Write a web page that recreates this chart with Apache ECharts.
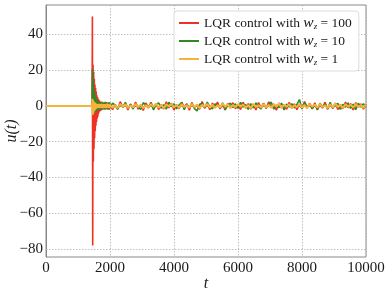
<!DOCTYPE html>
<html><head><meta charset="utf-8">
<script src="https://cdn.jsdelivr.net/npm/echarts@6/dist/echarts.min.js"></script>
<style>html,body{margin:0;padding:0;background:#fff}#c{width:390px;height:294px}</style>
</head><body><div id="c"></div>
<script>
// ---- data ----
const seriesNames = ['LQR control with w_z = 100', 'LQR control with w_z = 10', 'LQR control with w_z = 1'];
const wzValues = ['100', '10', '1'];
const xTicks = [0, 2000, 4000, 6000, 8000, 10000];
const yTicks = [-80, -60, -40, -20, 0, 20, 40];
// sample times: before control, transient (every 10), steady (every 80)
const tPre = [0, 1440];
const tTransStart = 1450, tTransStep = 10;
const tSteadyStart = 2000, tSteadyStep = 80;

const redPre = [0, 0];
const redTrans = [50, -78, 23, -31, 19, -24, 15, -18, 12, -14, 10, -11, 8, -9, 6, -7, 5, -6, 4, -4.5,
  3.5, -3.5, 3, -3, 2.5, -2.8, 2.2, -2.5, 1.8, -2.2, 2.4, -1.5, 1.2, -2, 1.6, -1.1, 2, -1.8, 0.9, -1.4,
  1.7, -2.1, 1.1, -0.8, 2.2, -1.6, 0.6, -1.9, 1.4, -1.2, 2.1, -0.9, 1.5, -2.3, 0.8];
const redSteady = [1.8, -2.1, 0.9, -1.6, 2.4, -0.7, 1.3, -2.3, 1.1, -1.4,
  2.2, -1.8, 0.6, -2.5, 1.7, -0.9, 2.0, -1.2, 1.4, -2.0,
  0.8, -1.7, 2.3, -1.1, 1.5, -2.2, 0.7, -1.5, 2.1, -0.8,
  1.2, -2.4, 1.9, -1.0, 0.5, -1.9, 2.5, -1.3, 1.0, -2.1,
  1.6, -0.6, 2.2, -1.7, 0.9, -2.3, 1.4, -1.0, 1.8, -1.6,
  0.7, -2.0, 2.1, -1.2, 1.3, -1.8, 0.8, -2.2, 1.9, -0.9,
  1.5, -1.4, 2.3, -0.7, 1.1, -2.4, 1.7, -1.1, 0.6, -1.9,
  2.0, -1.3, 1.2, -2.1, 0.9, -1.5, 2.4, -0.8, 1.4, -1.7,
  1.8, -2.2, 0.7, -1.2, 2.1, -1.9, 1.0, -1.4, 1.6, -2.0,
  0.8, -1.6, 2.2, -1.0, 1.3, -2.3, 1.9, -0.7, 1.1, -1.8, 0.9];

const greenPre = [0, 0];
const greenTrans = [20.5, -5, 14, -4.5, 10, -4, 8, -3.5, 6, -3.2, 5, -3, 4, -2.8, 3.5, -2.5, 3, -2.2, 2.5, -2,
  2.2, -1.8, 2, -1.5, 1.8, -2.2, 1.2, -1.6, 2.1, -1, 1.4, -1.9, 0.8, -1.3, 1.9, -0.7, 1.5, -2, 1, -1.2,
  2.3, -0.9, 1.3, -1.7, 0.6, -1.4, 1.8, -1.1, 0.9, -2, 1.6, -0.8, 1.2, -1.5, 2];
const greenSteady = [-1.2, 1.6, 0.4, -1.9, 1.1, -0.6, 2.0, -1.4, 0.8, -1.7,
  1.3, -0.5, -2.0, 1.8, 0.6, -1.1, 1.5, -2.2, 0.9, 1.7,
  -1.3, 0.7, -1.8, 2.1, -0.4, 1.2, -1.6, 0.5, 1.9, -2.1,
  1.0, -0.8, 1.6, -1.5, -2.8, 0.9, 1.4, -1.0, 2.2, -0.6,
  -1.7, 1.1, 0.3, -1.3, 1.8, -2.0, 0.6, 1.5, -0.9, 1.2,
  -1.4, 2.0, -0.7, 0.8, -1.9, 1.3, -1.1, 1.7, -0.5, -1.6,
  1.4, -1.2, 0.9, 2.1, -1.8, 0.5, -1.0, 1.6, -2.2, 1.0,
  -0.6, 1.3, -1.1, 0.8, 3.6, -1.7, 1.9, -0.8, 1.2, -1.5,
  0.7, -2.0, 1.5, -0.4, 1.1, -1.6, 2.0, -1.2, 0.6, 1.4,
  -1.9, 0.9, -0.7, 1.7, -1.4, 1.0, -2.1, 1.5, -0.6, 1.2, -0.8];

const yellowPre = [0, 0];
const yellowTrans = [4, -5, 3, -4, 2.5, -3, 2, -2.5, 1.8, -2, 1.5, -1.6, 1.2, -1.4, 1, -1.2, 0.9, -1, 1.1, -0.8,
  0.7, -1.1, 1.2, -0.6, 0.9, -1.3, 0.5, -0.9, 1.0, -0.7, 1.2, -1.0, 0.6, -1.2, 0.8, -0.5, 1.1, -0.9, 0.4, -1.1,
  1.0, -0.6, 0.8, -1.2, 0.5, -0.8, 1.3, -0.7, 0.6, -1.0, 0.9, -0.4, 1.1, -1.2, 0.7];
const yellowSteady = [0.8, -1.0, 0.5, -1.2, 1.1, -0.4, 0.9, -1.1, 0.3, -0.8,
  1.2, -0.6, 0.7, -1.3, 0.4, -0.9, 1.0, -0.5, 1.3, -1.0,
  0.6, -1.2, 0.9, -0.3, 1.1, -0.8, 0.5, -1.1, 1.0, -0.6,
  0.4, -1.0, 1.2, -0.7, 0.8, -1.3, 0.6, -0.4, 1.1, -0.9,
  0.7, -1.1, 0.3, -0.8, 1.3, -0.5, 0.9, -1.2, 0.6, -0.7,
  1.0, -0.4, 0.8, -1.0, 0.5, -1.3, 1.2, -0.6, 0.4, -0.9,
  1.1, -0.8, 0.6, -1.1, 0.9, -0.3, 1.3, -1.0, 0.7, -0.5,
  0.9, -1.2, 0.4, -0.7, 1.0, -0.9, 0.5, -1.3, 1.2, -0.4,
  0.8, -1.0, 1.1, -0.6, 0.3, -1.1, 0.9, -0.8, 1.3, -0.5,
  0.6, -1.2, 1.0, -0.4, 0.7, -0.9, 1.2, -0.7, 0.5, -1.0, 0.7];

// ---- build ----
function build(pre, trans, steady) {
  const out = [];
  pre.forEach((v, i) => out.push([tPre[i], v]));
  trans.forEach((v, i) => out.push([tTransStart + i * tTransStep, v]));
  steady.forEach((v, i) => out.push([tSteadyStart + i * tSteadyStep, v]));
  return out;
}
const colors = ['#ee3124', '#2f8a25', '#f7b23b'];
const widths = [1.6, 1.6, 2];
const datas = [build(redPre, redTrans, redSteady), build(greenPre, greenTrans, greenSteady), build(yellowPre, yellowTrans, yellowSteady)];

const serif = '"Liberation Serif", "DejaVu Serif", serif';
const chart = echarts.init(document.getElementById('c'), null, {renderer: 'canvas'});
const gridLineStyle = {color: '#b0b0b0', type: [1.5, 1.5], width: 0.8};
const series = datas.map((d, i) => ({
  name: seriesNames[i], type: 'line', data: d, showSymbol: false, symbol: 'none',
  sampling: null, animation: false, z: 3 + i,
  lineStyle: {color: colors[i], width: widths[i]}, itemStyle: {color: colors[i]}
}));
series[0].markLine = {
  silent: true, symbol: 'none', animation: false, label: {show: false},
  lineStyle: gridLineStyle, z: 1,
  data: yTicks.map(v => ({yAxis: v}))
};

chart.setOption({
  animation: false,
  backgroundColor: '#fff',
  grid: {left: 46, right: 24, top: 5, bottom: 37, containLabel: false, outerBoundsMode: 'none',
    show: true, borderColor: '#8a8a8a', borderWidth: 1, backgroundColor: 'transparent'},
  legend: {
    left: 174, top: 11, orient: 'vertical', itemGap: 2,
    backgroundColor: '#fff', borderColor: '#dcdcdc', borderWidth: 1, borderRadius: 3,
    padding: [4, 7, 4, 5],
    itemWidth: 20, itemHeight: 2, icon: 'rect',
    data: seriesNames,
    formatter: function (name) {
      const i = seriesNames.indexOf(name);
      return 'LQR control with {it|w}{sub|z} = ' + wzValues[i];
    },
    textStyle: {
      fontFamily: serif, fontSize: 13.5, color: '#1a1a1a', lineHeight: 16,
      rich: {
        it: {fontFamily: serif, fontSize: 15.5, fontStyle: 'italic', color: '#1a1a1a'},
        sub: {fontFamily: serif, fontSize: 9, fontStyle: 'italic', color: '#1a1a1a', verticalAlign: 'bottom', padding: [7, 0, 0, 0]}
      }
    }
  },
  xAxis: {
    type: 'value', min: 0, max: 10000, interval: 2000,
    name: 't', nameLocation: 'middle', nameGap: 19, nameMoveOverlap: false,
    nameTextStyle: {fontFamily: serif, fontSize: 16, fontStyle: 'italic', color: '#1a1a1a'},
    axisLine: {show: true, lineStyle: {color: '#8a8a8a'}},
    axisTick: {show: false},
    axisLabel: {fontFamily: serif, fontSize: 15, color: '#1a1a1a', margin: 4, formatter: v => String(v)},
    splitLine: {show: true, lineStyle: gridLineStyle}
  },
  yAxis: {
    type: 'value', min: -84.4, max: 56.4,
    name: 'u(t)', nameLocation: 'middle', nameGap: 26, nameRotate: 90, nameMoveOverlap: false,
    nameTextStyle: {fontFamily: serif, fontSize: 16, fontStyle: 'italic', color: '#1a1a1a'},
    axisLine: {show: true, lineStyle: {color: '#8a8a8a'}},
    axisTick: {show: false, customValues: yTicks},
    axisLabel: {fontFamily: serif, fontSize: 15, color: '#1a1a1a', margin: 3, customValues: yTicks,
      formatter: v => (v < 0 ? '\u2212' + Math.abs(v) : String(v))},
    splitLine: {show: false}
  },
  series: series
});
</script>
</body></html>
